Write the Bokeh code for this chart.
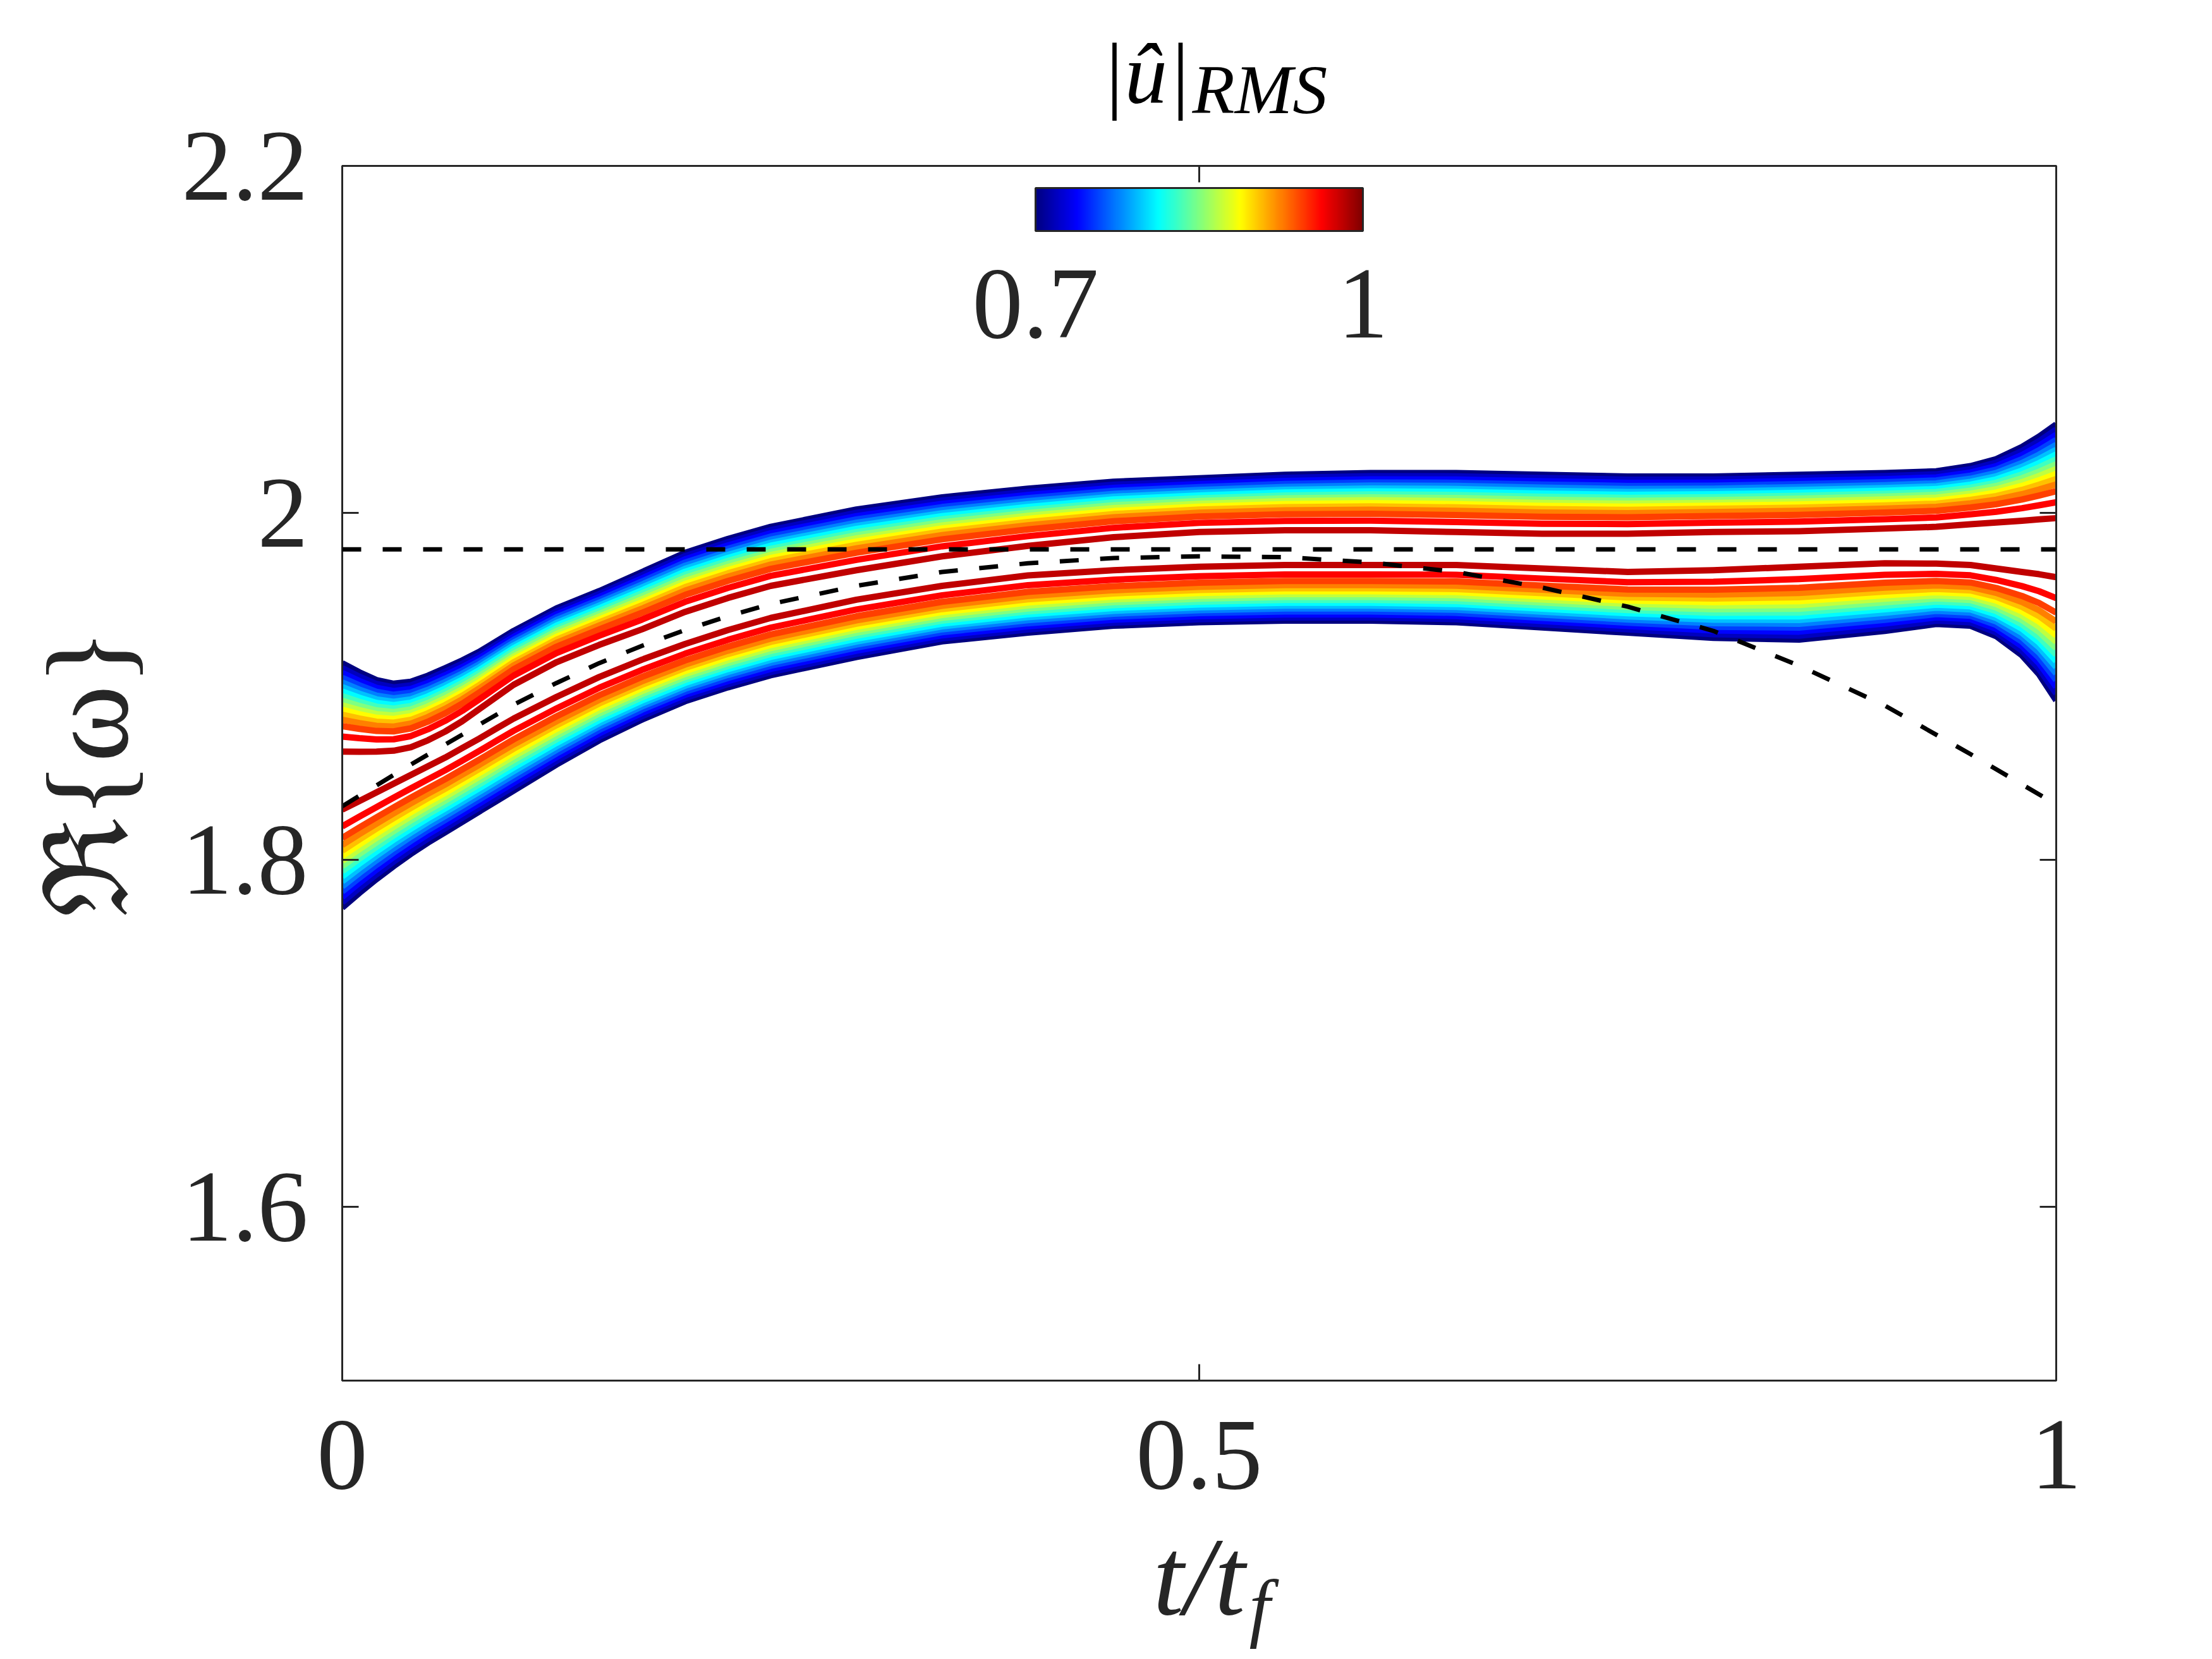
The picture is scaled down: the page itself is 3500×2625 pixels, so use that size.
import numpy as np
from bokeh.plotting import figure
from bokeh.models import (Range1d, LinearAxis, FixedTicker, CustomJSTickFormatter,
                          ColorBar, LinearColorMapper, Label, Span)
from bokeh.embed import file_html
from bokeh.resources import INLINE

# ---------------- data ----------------
t_knots = [0, 0.01, 0.02, 0.03, 0.04, 0.05, 0.06, 0.07, 0.08, 0.09, 0.10, 0.125, 0.15,
           0.175, 0.2, 0.225, 0.25, 0.3, 0.35, 0.4, 0.45, 0.5, 0.55, 0.6, 0.65, 0.7,
           0.75, 0.8, 0.85, 0.9, 0.93, 0.95, 0.965, 0.98, 0.99, 1.0]

# upper branch, |u|_RMS = 0.7 (outer, blue) line
upper_outer = [1.9134, 1.9082, 1.9037, 1.9016, 1.9027, 1.9062, 1.9105, 1.915, 1.920,
               1.926, 1.932, 1.945, 1.955, 1.966, 1.977, 1.985, 1.992, 2.002, 2.009,
               2.014, 2.018, 2.020, 2.022, 2.023, 2.023, 2.022, 2.021, 2.021, 2.022,
               2.023, 2.024, 2.027, 2.031, 2.038, 2.044, 2.051]
# upper branch, largest amplitude (inner, dark red) line
upper_inner = [1.8625, 1.8624, 1.8625, 1.863, 1.865, 1.869, 1.874, 1.880, 1.887,
               1.894, 1.901, 1.914, 1.924, 1.933, 1.943, 1.951, 1.958, 1.967, 1.975,
               1.981, 1.986, 1.989, 1.990, 1.990, 1.989, 1.988, 1.988, 1.989, 1.9895,
               1.991, 1.992, 1.9935, 1.9945, 1.9955, 1.9963, 1.997]
# lower branch, largest amplitude (inner, dark red) line
lower_inner = [1.829, 1.834, 1.839, 1.844, 1.849, 1.854, 1.859, 1.8645, 1.870, 1.8758,
               1.8815, 1.894, 1.9055, 1.9155, 1.9245, 1.9325, 1.9395, 1.950, 1.958,
               1.964, 1.967, 1.969, 1.970, 1.970, 1.970, 1.968, 1.966, 1.967, 1.969,
               1.971, 1.9708, 1.970, 1.968, 1.966, 1.9647, 1.963]
# lower branch, |u|_RMS = 0.7 (outer, blue) line
lower_outer = [1.7725, 1.781, 1.789, 1.7965, 1.8035, 1.810, 1.816, 1.822, 1.828, 1.834,
               1.840, 1.855, 1.869, 1.881, 1.8915, 1.8995, 1.9065, 1.917, 1.926, 1.931,
               1.935, 1.937, 1.938, 1.938, 1.937, 1.934, 1.931, 1.928, 1.927, 1.932,
               1.936, 1.935, 1.929, 1.918, 1.907, 1.892]

# amplitudes of the plotted lines and where each sits across its band
amplitudes = [0.700, 0.719, 0.738, 0.756, 0.775, 0.794, 0.812, 0.831,
              0.850, 0.869, 0.888, 0.906, 0.925, 0.944, 0.962, 0.981]
band_fraction = [1.0, 0.945, 0.89, 0.835, 0.782, 0.73, 0.68, 0.628,
                 0.576, 0.524, 0.472, 0.418, 0.36, 0.288, 0.17, 0.0]

# dashed reference curve
dash_t = [0, 0.02, 0.04, 0.06, 0.08, 0.1, 0.125, 0.15, 0.175, 0.2, 0.225, 0.25, 0.3,
          0.35, 0.4, 0.45, 0.5, 0.55, 0.6, 0.65, 0.7, 0.75, 0.8, 0.85, 0.9, 0.95, 1.0]
dash_w = [1.831, 1.843, 1.855, 1.8665, 1.878, 1.8895, 1.902, 1.9135, 1.9235, 1.9325,
          1.9405, 1.9475, 1.958, 1.966, 1.971, 1.974, 1.975, 1.9745, 1.9715, 1.966,
          1.957, 1.946, 1.932, 1.912, 1.889, 1.861, 1.832]
# dashed horizontal reference
omega_ref = 1.979

x_ticks = [0, 0.5, 1]
y_ticks = [1.6, 1.8, 2.0, 2.2]
cbar_low, cbar_high = 0.7, 1.0
cbar_ticks = [0.7, 1.0]

# ---------------- styling helpers ----------------
def jet(c):
    def cl(v):
        return min(max(v, 0.0), 1.0)
    r = cl(min(4 * c - 1.5, -4 * c + 4.5))
    g = cl(min(4 * c - 0.5, -4 * c + 3.5))
    b = cl(min(4 * c + 0.5, -4 * c + 2.5))
    return "#%02x%02x%02x" % (round(r * 255), round(g * 255), round(b * 255))

jet256 = [jet(i / 255) for i in range(256)]
AX = "#262626"
FONT = "Liberation Serif"

p = figure(width=3484, height=2609, output_backend="svg", toolbar_location=None,
           x_range=Range1d(0, 1), y_range=Range1d(1.5, 2.2),
           min_border_left=541, min_border_right=231, min_border_top=262,
           min_border_bottom=425)
p.xgrid.visible = False
p.ygrid.visible = False
p.background_fill_color = "white"
p.border_fill_color = "white"
p.outline_line_color = AX
p.outline_line_width = 3

fmt = CustomJSTickFormatter(code="return (Math.round(tick*10)/10).toString();")
blank = CustomJSTickFormatter(code="return '';")

def style_axis(ax, ticks, formatter, standoff, size="160px"):
    ax.ticker = FixedTicker(ticks=ticks)
    ax.formatter = formatter
    ax.axis_line_color = AX
    ax.axis_line_width = 3
    ax.major_tick_line_color = AX
    ax.major_tick_line_width = 3
    ax.major_tick_in = 26
    ax.major_tick_out = 0
    ax.minor_tick_line_color = None
    ax.major_label_text_font = FONT
    ax.major_label_text_font_size = size
    ax.major_label_text_color = AX
    ax.major_label_standoff = standoff

style_axis(p.xaxis[0], x_ticks, fmt, 64)
style_axis(p.yaxis[0], y_ticks, fmt, 54)
p.xaxis[0].axis_label = "t/t"
p.xaxis[0].axis_label_text_font = FONT
p.xaxis[0].axis_label_text_font_style = "italic"
p.xaxis[0].axis_label_text_font_size = "175px"
p.xaxis[0].axis_label_text_color = AX
p.xaxis[0].axis_label_standoff = 40
p.yaxis[0].axis_label = "ℜ{ω}"
p.yaxis[0].axis_label_text_font = FONT
p.yaxis[0].axis_label_text_font_style = "normal"
p.yaxis[0].axis_label_text_font_size = "185px"
p.yaxis[0].axis_label_text_color = AX
p.yaxis[0].axis_label_standoff = 44

right_ax = LinearAxis()
style_axis(right_ax, y_ticks, blank, 0, "0px")
p.add_layout(right_ax, "right")
top_ax = LinearAxis()
style_axis(top_ax, x_ticks, blank, 0, "0px")
p.add_layout(top_ax, "above")

# ---------------- curves ----------------
t = np.array(t_knots)
uo, ui = np.array(upper_outer), np.array(upper_inner)
lo, li = np.array(lower_outer), np.array(lower_inner)
for a, s in zip(amplitudes, band_fraction):
    col = jet((a - cbar_low) / (cbar_high - cbar_low))
    p.line(t, ui + s * (uo - ui), line_color=col, line_width=10, line_join="round")
    p.line(t, li + s * (lo - li), line_color=col, line_width=10, line_join="round")

p.line(dash_t, dash_w, line_color="black", line_width=7, line_dash="30 34")
p.add_layout(Span(location=omega_ref, dimension="width", line_color="black",
                  line_width=7, line_dash="30 34"))

# ---------------- colour bar ----------------
mapper = LinearColorMapper(palette=jet256, low=cbar_low, high=cbar_high)
cb = ColorBar(color_mapper=mapper, orientation="horizontal", location="top_center",
              width=518, height=68, padding=0, margin=35,
              ticker=FixedTicker(ticks=cbar_ticks), formatter=fmt,
              major_label_text_font=FONT, major_label_text_font_size="160px",
              major_label_text_color=AX, label_standoff=62,
              major_tick_line_color=None, minor_tick_line_color=None,
              bar_line_color=AX, bar_line_width=3,
              background_fill_alpha=0, border_line_color=None)
p.add_layout(cb, "center")

# ---------------- texts in side panels (not clipped to the frame) ----------------
sub_f = Label(x=-1277, y=-358, x_units="screen", y_units="screen", text="f",
              text_font=FONT, text_font_style="italic", text_font_size="120px",
              text_color=AX, text_align="left", text_baseline="alphabetic")
p.add_layout(sub_f, "right")
title_u = Label(x=-1544, y=2068, x_units="screen", y_units="screen", text="|û|",
                text_font=FONT, text_font_style="italic", text_font_size="135px",
                text_color="black", text_align="left", text_baseline="alphabetic")
p.add_layout(title_u, "right")
title_rms = Label(x=1345, y=121, x_units="screen", y_units="screen", text="RMS",
                  text_font=FONT, text_font_style="italic", text_font_size="110px",
                  text_color="black", text_align="left", text_baseline="alphabetic")
p.add_layout(title_rms, "above")

open("out.html", "w").write(file_html(p, INLINE))
